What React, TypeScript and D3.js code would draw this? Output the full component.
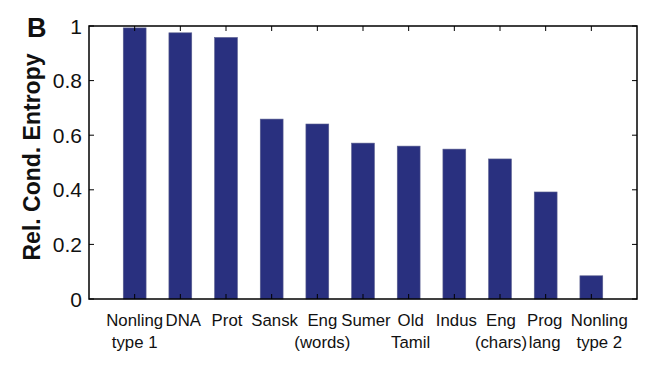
import * as d3 from "d3";

const categories = [
  "Nonling type 1",
  "DNA",
  "Prot",
  "Sansk",
  "Eng (words)",
  "Sumer",
  "Old Tamil",
  "Indus",
  "Eng (chars)",
  "Prog lang",
  "Nonling type 2",
];
const labelLines = [
  ["Nonling", "type 1"],
  ["DNA", ""],
  ["Prot", ""],
  ["Sansk", ""],
  ["Eng", "(words)"],
  ["Sumer", ""],
  ["Old", "Tamil"],
  ["Indus", ""],
  ["Eng", "(chars)"],
  ["Prog", "lang"],
  ["Nonling", "type 2"],
];
const entropy = [0.993, 0.975, 0.958, 0.659, 0.641, 0.571, 0.56, 0.549, 0.513, 0.392, 0.085];
const yTicks = [0, 0.2, 0.4, 0.6, 0.8, 1];
const yTickLabels = ["0", "0.2", "0.4", "0.6", "0.8", "1"];

const W = 664;
const H = 367;
const plot = { left: 89, right: 637, top: 26, bottom: 299 };
const font = "Helvetica, 'Liberation Sans', Arial, sans-serif";
const barColor = "#29307f";
// the labels in the original sit a little right of their ticks
const labelNudge = [0, 3, 1, 3, 5, 3, 2, 2, 1, -1, 8];

export default function App() {
  const x = d3
    .scaleBand()
    .domain(categories)
    .range([plot.left, plot.right])
    .paddingInner(0.5)
    .paddingOuter(0.75);
  const y = d3.scaleLinear().domain([0, 1]).range([plot.bottom, plot.top]);
  const tick = 5;

  return (
    <svg
      width={W}
      height={H}
      style={{ position: "absolute", left: 0, top: 0, background: "#fff" }}
      fontFamily={font}
    >
      {/* bars */}
      {categories.map((c, i) => (
        <rect
          key={c}
          x={x(c)}
          y={y(entropy[i])}
          width={x.bandwidth()}
          height={y(0) - y(entropy[i])}
          fill={barColor}
          stroke="#5a5f8f"
          strokeWidth={0.6}
        />
      ))}

      {/* axes box */}
      <rect
        x={plot.left}
        y={plot.top}
        width={plot.right - plot.left}
        height={plot.bottom - plot.top}
        fill="none"
        stroke="#000"
        strokeWidth={1.5}
      />

      {/* x ticks top and bottom */}
      {categories.map((c) => {
        const cx = (x(c) ?? 0) + x.bandwidth() / 2;
        return (
          <g key={"t" + c}>
            <line x1={cx} x2={cx} y1={plot.top} y2={plot.top + tick} stroke="#000" strokeWidth={1} />
            <line x1={cx} x2={cx} y1={plot.bottom} y2={plot.bottom - tick} stroke="#000" strokeWidth={1} />
          </g>
        );
      })}

      {/* y ticks left and right */}
      {yTicks.map((v, i) => (
        <g key={"y" + v}>
          <line x1={plot.left} x2={plot.left + tick} y1={y(v)} y2={y(v)} stroke="#000" strokeWidth={1} />
          <line x1={plot.right} x2={plot.right - tick} y1={y(v)} y2={y(v)} stroke="#000" strokeWidth={1} />
          <text
            x={plot.left - 7}
            y={y(v)}
            dy="0.36em"
            textAnchor="end"
            fontSize={21}
            fill="#111"
          >
            {yTickLabels[i]}
          </text>
        </g>
      ))}

      {/* category labels */}
      {categories.map((c, i) => {
        const cx = (x(c) ?? 0) + x.bandwidth() / 2 + labelNudge[i];
        return (
          <text key={"l" + c} textAnchor="middle" fontSize={16.8} fill="#111">
            <tspan x={cx} y={326}>
              {labelLines[i][0]}
            </tspan>
            {labelLines[i][1] && (
              <tspan x={cx} y={348}>
                {labelLines[i][1]}
              </tspan>
            )}
          </text>
        );
      })}

      {/* y axis title */}
      <text
        transform={`translate(40,157) rotate(-90)`}
        textAnchor="middle"
        fontSize={23}
        fontWeight="bold"
        fill="#111"
      >
        Rel. Cond. Entropy
      </text>

      {/* panel letter */}
      <text x={27} y={37} fontSize={27} fontWeight="bold" fill="#111">
        B
      </text>
    </svg>
  );
}
